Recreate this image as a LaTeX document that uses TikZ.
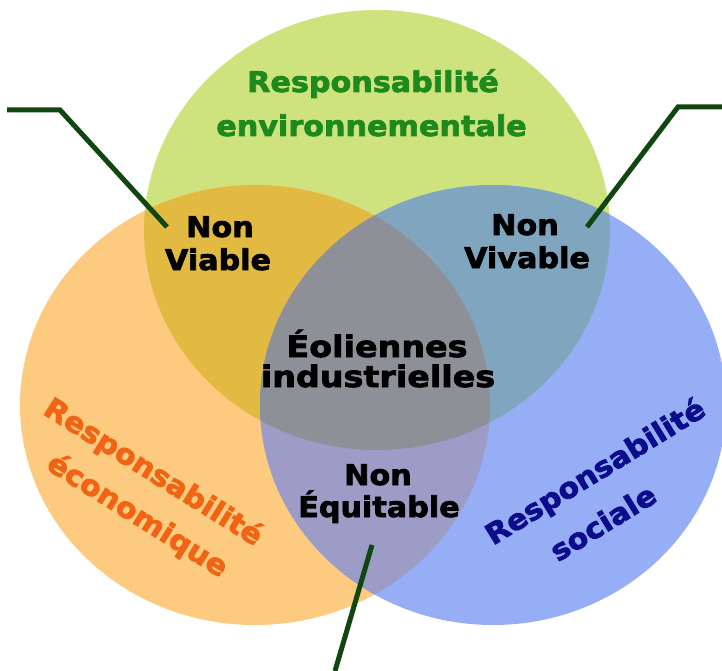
\documentclass[tikz,border=0pt]{standalone}
\usepackage{fontspec}
\setmainfont{DejaVu Sans}[BoldFeatures={FakeBold=2.5,FakeStretch=1.06}]
\newfontfamily\widefont{DejaVu Sans}[BoldFeatures={FakeBold=2.5,FakeStretch=1.13}]
\definecolor{cgreen}{RGB}{206,227,125}
\definecolor{corange}{RGB}{253,203,128}
\definecolor{cblue}{RGB}{150,174,245}
\definecolor{cgo}{RGB}{226,186,66}
\definecolor{cgb}{RGB}{128,165,190}
\definecolor{cob}{RGB}{156,156,198}
\definecolor{ccenter}{RGB}{142,144,152}
\definecolor{cline}{RGB}{16,70,16}
\definecolor{tgreen}{RGB}{30,138,30}
\definecolor{torange}{RGB}{240,100,20}
\definecolor{tblue}{RGB}{12,12,140}
\begin{document}
\begin{tikzpicture}[x=1pt,y=-1pt,
  lbl/.style={font=\fontsize{28.5}{33}\selectfont\bfseries, inner sep=0pt, anchor=base},
  biglbl/.style={font=\widefont\fontsize{29.5}{30}\selectfont\bfseries, inner sep=0pt, anchor=base},
  rotlbl/.style={inner sep=0pt, anchor=center, align=center},
  conn/.style={draw=cline, line width=5pt}]
\useasboundingbox (0,0) rectangle (722,671);
\def\GE{(377,230) ellipse [x radius=233, y radius=220]}
\def\OE{(255,405) ellipse [x radius=235, y radius=220]}
\def\BE{(493,405) ellipse [x radius=233, y radius=220]}
\fill[cgreen] \GE;
\fill[corange] \OE;
\fill[cblue] \BE;
\begin{scope}\clip \GE; \fill[cgo] \OE; \end{scope}
\begin{scope}\clip \GE; \fill[cgb] \BE; \end{scope}
\begin{scope}\clip \OE; \fill[cob] \BE; \end{scope}
\begin{scope}\clip \GE; \clip \OE; \fill[ccenter] \BE; \end{scope}
% labels
\node[lbl, text=tgreen] (env1) at (373,92) {Responsabilité};
\node[lbl, text=tgreen] (env2) at (371.5,136) {environnementale};
\node[lbl] (via1) at (220,237) {Non};
\node[lbl] (via2) at (218,270) {Viable};
\node[lbl] (viv1) at (525,235) {Non};
\node[lbl] (viv2) at (527,268) {Vivable};
\node[lbl] (equ1) at (378,485) {Non};
\node[lbl] (equ2) at (379,517) {Équitable};
\node[biglbl] (eol1) at (377,357) {Éoliennes};
\node[biglbl] (eol2) at (378,387) {industrielles};
\node[rotlbl, font=\fontsize{28.5}{45}\selectfont\bfseries, text=torange, rotate=-32] (eco) at (141,492)
  {Responsabilité\\\hspace*{19pt}économique};
\node[rotlbl, font=\fontsize{28.5}{48}\selectfont\bfseries, text=tblue, rotate=31.5] (soc) at (607,491)
  {Responsabilité\\sociale\hspace*{40pt}};
% connectors
\coordinate (a0) at (7,110);
\coordinate (a1) at (60,110);
\coordinate (a2) at (167,227);
\coordinate (b0) at (722,107);
\coordinate (b1) at (678,107);
\coordinate (b2) at (587,227);
\coordinate (c0) at (335,671);
\coordinate (c1) at (372,545);
\draw[conn] (a0) -- (a1) -- (a2);
\draw[conn] (b0) -- (b1) -- (b2);
\draw[conn] (c0) -- (c1);
\end{tikzpicture}
\end{document}
